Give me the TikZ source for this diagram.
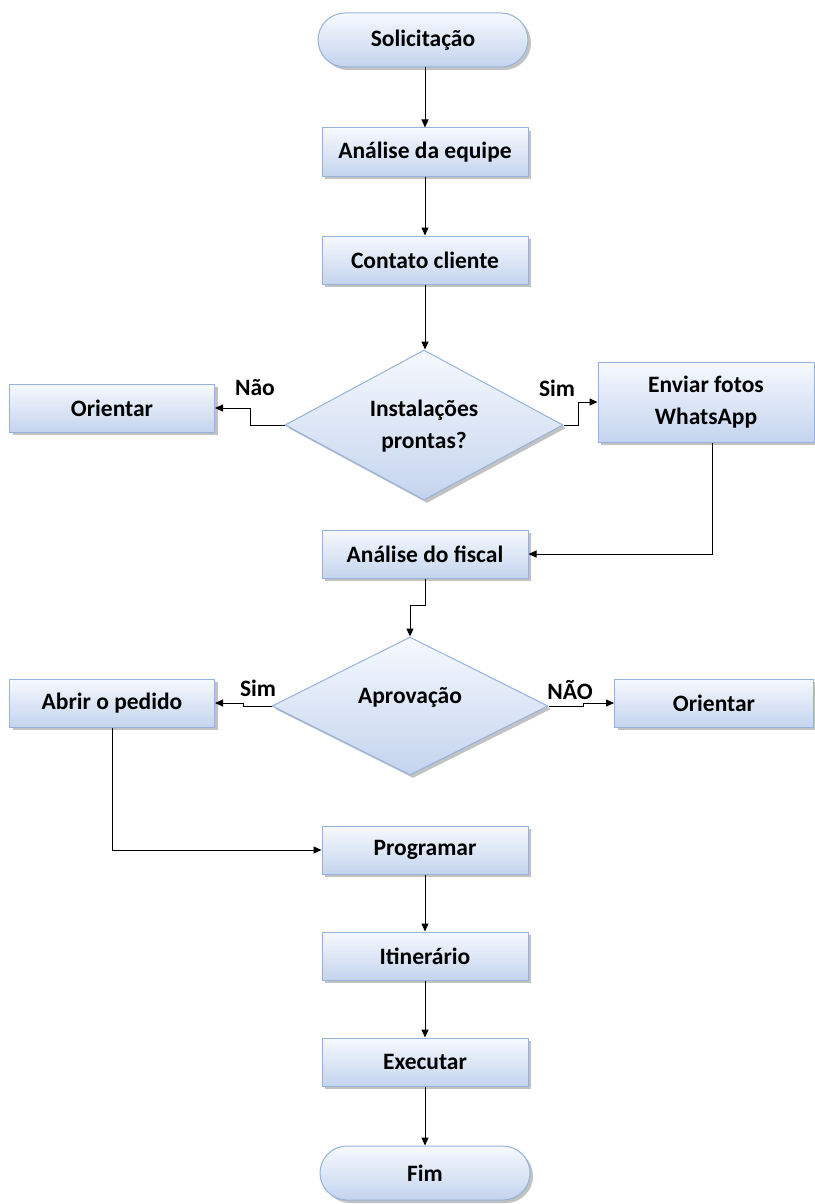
\documentclass[tikz,border=0pt]{standalone}
\usepackage{fontspec}
\setmainfont{Carlito}
\usetikzlibrary{shapes.geometric,shadows,arrows.meta}
\definecolor{boxtop}{RGB}{246,249,254}
\definecolor{boxbot}{RGB}{196,212,238}
\definecolor{boxline}{RGB}{150,178,218}
\tikzset{
  basebox/.style={draw=boxline, line width=1pt, top color=boxtop, bottom color=boxbot,
    font=\fontsize{23.5}{32}\selectfont\bfseries, align=center,
    drop shadow={shadow xshift=3pt, shadow yshift=-3pt, opacity=0.4, fill=black!60}},
  procbox/.style={basebox, rectangle, minimum width=206pt, minimum height=48pt, inner sep=0pt},
  termbox/.style={basebox, rectangle, rounded corners=27pt, minimum width=210pt, minimum height=54pt, inner sep=0pt},
  decbox/.style={basebox, diamond, inner sep=0pt},
  flow/.style={draw=black, line width=1pt, -{Triangle[length=8pt,width=7pt]}},
  lbl/.style={font=\fontsize{23.5}{32}\selectfont\bfseries, inner sep=0pt, align=center}
}
\begin{document}
\begin{tikzpicture}[x=1pt,y=-1pt]
\useasboundingbox (0,0) rectangle (814,1204);
\node[termbox] (sol) at (423,40) {Solicitação};
\node[procbox] (ana) at (425,152) {Análise da equipe};
\node[procbox] (con) at (425,260) {Contato cliente};
\node[decbox, minimum width=278pt, minimum height=150pt] (d1) at (424,425) {};
\node[lbl] (d1t) at (424,426) {Instalações\\prontas?};
\node[procbox, minimum width=205pt] (or1) at (112,408) {Orientar};
\node[procbox, minimum width=216pt, minimum height=80pt] (env) at (706,402) {Enviar fotos\\WhatsApp};
\node[procbox] (fis) at (425,554) {Análise do fiscal};
\node[decbox, minimum width=276pt, minimum height=138pt] (d2) at (410,706) {};
\node[lbl] (apr) at (410,697) {Aprovação};
\node[procbox, minimum width=205pt] (abr) at (112,703) {Abrir o pedido};
\node[procbox, minimum width=199pt] (or2) at (714,703) {Orientar};
\node[procbox] (pro) at (425,850) {Programar};
\node[procbox] (iti) at (425,956) {Itinerário};
\node[procbox] (exe) at (425,1062) {Executar};
\node[termbox] (fim) at (425,1173) {Fim};
\node[lbl] (lnao1) at (255,388) {Não};
\node[lbl] (lsim1) at (557,388) {Sim};
\node[lbl] (lsim2) at (258,688) {Sim};
\node[lbl] (lnao2) at (570,690) {NÃO};
\coordinate (c1) at (250,425);
\coordinate (c2) at (578,425);
\coordinate (c3) at (243,706);
\coordinate (c4) at (583,706);
\draw[flow] (sol.south -| ana.north) -- (ana.north);
\draw[flow] (ana.south) -- (con.north);
\draw[flow] (con.south) -- (con.south |- d1.north);
\draw[flow] (d1.west) -- (c1) |- (or1.east);
\draw[flow] (d1.east) -- (c2) |- (env.west);
\draw[flow] ([xshift=6pt]env.south) |- (fis.east);
\draw[flow] (fis.south) -- ++(0,27) -| (d2.north);
\draw[flow] (d2.west) -- (c3) |- (abr.east);
\draw[flow] (d2.east) -- (c4) |- (or2.west);
\draw[flow] (abr.south) |- (pro.west);
\draw[flow] (pro.south) -- (iti.north);
\draw[flow] (iti.south) -- (exe.north);
\draw[flow] (exe.south) -- (fim.north);
\end{tikzpicture}
\end{document}
